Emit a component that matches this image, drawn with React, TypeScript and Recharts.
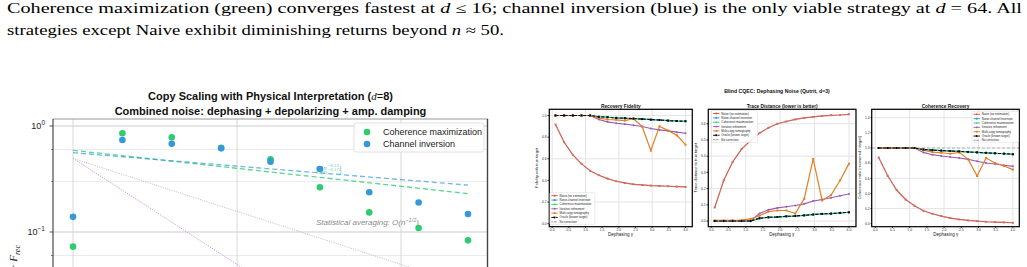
import React from "react";
import {
  ComposedChart,
  LineChart,
  Line,
  Scatter,
  XAxis,
  YAxis,
  CartesianGrid,
  ReferenceLine,
  ReferenceDot,
} from "recharts";

const SANS = '"Liberation Sans", Arial, sans-serif';
const SERIF = '"Liberation Serif", "Times New Roman", serif';

const GREEN = "#2ecc71";
const BLUE = "#3498db";
const RED = "#e74c3c";
const PURPLE = "#9b59b6";
const ORANGE = "#e67e22";

// ---------------- Left chart data (1 - F_rec vs copies, d = 8) ----------------
const copies = [1, 2, 4, 8, 16, 32, 64, 128, 256];
const coherenceMaxErr = [0.0727, 0.853, 0.782, 0.624, 0.485, 0.264, 0.153, 0.109, 0.0834];
const channelInvErr = [0.139, 0.738, 0.681, 0.615, 0.461, 0.393, 0.237, 0.19, 0.148];
const fitCopies = [1, 256];
const coherenceFit = [0.59, 0.23];
const inversionFit = [0.56, 0.277];
const statAvgGuide = [0.495, 0.0309];
const inverseGuide = [0.495, 0.00193];
const leftXTicks = [0.8, 0.9, 1, 2, 3, 4, 5, 6, 7, 8, 9, 10, 20, 30, 40, 50, 60, 70, 80, 90, 100, 200, 300];
const leftYTicks = [
  0.002, 0.003, 0.004, 0.005, 0.006, 0.007, 0.008, 0.009, 0.01, 0.02, 0.03, 0.04, 0.05, 0.06, 0.07, 0.08, 0.09,
  0.1, 0.2, 0.3, 0.4, 0.5, 0.6, 0.7, 0.8, 0.9, 1,
];
const leftMajorY = [1, 0.1, 0.01];
const leftMajorX = [1, 10, 100];

// ---------------- Right figure data (Blind CQEC, dephasing, qutrit) ----------------
const gamma = [0.1, 0.36, 0.62, 0.88, 1.14, 1.4, 1.66, 1.92, 2.18, 2.44, 2.7, 2.96, 3.22, 3.48, 3.74, 4.0];

const fidNaive = [0.917, 0.753, 0.636, 0.553, 0.49, 0.448, 0.417, 0.392, 0.377, 0.364, 0.358, 0.352, 0.349, 0.346, 0.343, 0.34];
const fidInversion = [1, 1, 1, 1, 1, 0.988, 0.984, 0.978, 0.975, 0.971, 0.967, 0.962, 0.958, 0.953, 0.949, 0.947];
const fidCoherence = [1, 1, 1, 1, 1, 0.988, 0.984, 0.978, 0.975, 0.971, 0.967, 0.962, 0.958, 0.953, 0.949, 0.947];
const fidIterative = [1, 1, 1, 1, 1, 0.963, 0.941, 0.929, 0.92, 0.91, 0.898, 0.88, 0.867, 0.858, 0.846, 0.836];
const fidMulticopy = [1, 1, 1, 1, 0.998, 0.975, 0.963, 0.96, 0.953, 0.97, 0.898, 0.676, 0.9, 0.86, 0.817, 0.73];
const fidOracle = [1, 1, 1, 1, 1, 0.988, 0.984, 0.978, 0.975, 0.971, 0.967, 0.962, 0.958, 0.953, 0.949, 0.947];
const fidNoCorrection = [0.917, 0.753, 0.636, 0.553, 0.49, 0.448, 0.417, 0.392, 0.377, 0.364, 0.358, 0.352, 0.349, 0.346, 0.343, 0.34];

const trNaive = [0.083, 0.25, 0.364, 0.444, 0.496, 0.542, 0.575, 0.6, 0.614, 0.627, 0.636, 0.642, 0.648, 0.652, 0.654, 0.658];
const trInversion = [0, 0, 0, 0, 0, 0.017, 0.023, 0.025, 0.029, 0.031, 0.035, 0.04, 0.044, 0.046, 0.05, 0.054];
const trCoherence = [0, 0, 0, 0, 0, 0.017, 0.023, 0.025, 0.029, 0.031, 0.035, 0.04, 0.044, 0.046, 0.05, 0.054];
const trIterative = [0, 0, 0, 0, 0, 0.046, 0.069, 0.081, 0.088, 0.096, 0.106, 0.123, 0.133, 0.144, 0.156, 0.167];
const trMulticopy = [0.004, 0.004, 0.005, 0.006, 0.013, 0.033, 0.058, 0.065, 0.065, 0.046, 0.138, 0.383, 0.127, 0.16, 0.25, 0.354];
const trOracle = [0, 0, 0, 0, 0, 0.017, 0.023, 0.025, 0.029, 0.031, 0.035, 0.04, 0.044, 0.046, 0.05, 0.054];
const trNoCorrection = [0.083, 0.25, 0.364, 0.444, 0.496, 0.542, 0.575, 0.6, 0.614, 0.627, 0.636, 0.642, 0.648, 0.652, 0.654, 0.658];

const cohNaive = [0.876, 0.634, 0.445, 0.321, 0.238, 0.172, 0.132, 0.101, 0.075, 0.057, 0.044, 0.035, 0.026, 0.022, 0.018, 0.013];
const cohInversion = [1, 1, 1, 1, 1, 0.98, 0.972, 0.966, 0.96, 0.955, 0.948, 0.942, 0.936, 0.93, 0.925, 0.918];
const cohCoherence = [1, 1, 1, 1, 1, 0.98, 0.972, 0.966, 0.96, 0.955, 0.948, 0.942, 0.936, 0.93, 0.925, 0.918];
const cohIterative = [1, 1, 1, 1, 1, 0.942, 0.912, 0.894, 0.881, 0.868, 0.85, 0.824, 0.802, 0.789, 0.772, 0.758];
const cohMulticopy = [1, 1, 1, 1, 1, 0.97, 0.946, 0.937, 0.924, 0.942, 0.85, 0.63, 0.868, 0.802, 0.763, 0.715];
const cohOracle = [1, 1, 1, 1, 1, 0.98, 0.972, 0.966, 0.96, 0.955, 0.948, 0.942, 0.936, 0.93, 0.925, 0.918];
const cohNoCorrection = [0.876, 0.634, 0.445, 0.321, 0.238, 0.172, 0.132, 0.101, 0.075, 0.057, 0.044, 0.035, 0.026, 0.022, 0.018, 0.013];

const seriesNames = [
  "Naive (no estimation)",
  "Noise-channel inversion",
  "Coherence maximization",
  "Iterative refinement",
  "Multi-copy tomography",
  "Oracle (known target)",
  "No correction",
];
const rightXTicks = [0, 0.5, 1, 1.5, 2, 2.5, 3, 3.5, 4];
const fidTicks = [0, 0.2, 0.4, 0.6, 0.8, 1.0];
const traceTicks = [0, 0.1, 0.2, 0.3, 0.4, 0.5, 0.6];
const cohTicks = [0, 0.2, 0.4, 0.6, 0.8, 1.0, 1.2, 1.4];

type SeriesStyle = { color: string; dash?: string; marker: string; width: number; opacity: number };
const SERIES: SeriesStyle[] = [
  { color: RED, marker: "o", width: 1.2, opacity: 1 },
  { color: BLUE, marker: "s", width: 1.1, opacity: 1 },
  { color: GREEN, marker: "^", width: 1.1, opacity: 1 },
  { color: PURPLE, marker: "o", width: 1.1, opacity: 1 },
  { color: ORANGE, marker: "s", width: 1.2, opacity: 1 },
  { color: "#000", dash: "3 1.6", marker: "s", width: 1.1, opacity: 1 },
  { color: "#999", dash: "2 1.5", marker: "x", width: 0.8, opacity: 0.85 },
];

// ---------------- Layout constants ----------------
const LP = { left: 53, top: 119, right: 488, bottom: 444 };
const PANEL_TOP = 109.3;
const PANEL_H = 117.4;

type PanelSpec = {
  title: string;
  yLabel: string;
  plotLeft: number;
  plotRight: number;
  yDomain: [number, number];
  yTicks: number[];
  series: number[][];
  refOne?: boolean;
  legend: { x: number; y: number; w: number; h: number };
};

const PANELS: PanelSpec[] = [
  {
    title: "Recovery Fidelity",
    yLabel: "Fidelity with true target",
    plotLeft: 549.3,
    plotRight: 692.3,
    yDomain: [-0.025, 1.06],
    yTicks: fidTicks,
    series: [fidNaive, fidInversion, fidCoherence, fidIterative, fidMulticopy, fidOracle, fidNoCorrection],
    legend: { x: 549.8, y: 192.7, w: 45, h: 31.6 },
  },
  {
    title: "Trace Distance (lower is better)",
    yLabel: "Trace distance to true target",
    plotLeft: 708.3,
    plotRight: 856,
    yDomain: [-0.033, 0.691],
    yTicks: traceTicks,
    series: [trNaive, trInversion, trCoherence, trIterative, trMulticopy, trOracle, trNoCorrection],
    legend: { x: 711.5, y: 110.5, w: 46, h: 32 },
  },
  {
    title: "Coherence Recovery",
    yLabel: "Coherence ratio (recovered / target)",
    plotLeft: 871.7,
    plotRight: 1019.3,
    yDomain: [-0.035, 1.515],
    yTicks: cohTicks,
    series: [cohNaive, cohInversion, cohCoherence, cohIterative, cohMulticopy, cohOracle, cohNoCorrection],
    refOne: true,
    legend: { x: 972, y: 111.3, w: 46.5, h: 31 },
  },
];

// ---------------- Helpers ----------------
const LogTick = (props: any) => {
  const { x, y, payload } = props;
  const v = payload.value as number;
  const e = Math.round(Math.log10(v));
  const major = Math.abs(v / Math.pow(10, e) - 1) < 1e-6;
  return (
    <g>
      <line x1={x - (major ? 3.5 : 2)} x2={x} y1={y} y2={y} stroke="#333" strokeWidth={major ? 0.8 : 0.6} />
      {major && (
        <text x={x - 8} y={y} dy="0.35em" textAnchor="end" fontSize={9} fill="#222" fontFamily={SANS}>
          10
          <tspan dy={-4} fontSize={6.5}>
            {e === 0 ? "0" : `\u2212${-e}`}
          </tspan>
        </text>
      )}
    </g>
  );
};

const leftYLabel = () => (
  <text transform="translate(17,262) rotate(-90)" textAnchor="middle" fontSize={11} fill="#222" fontFamily={SERIF}>
    1 − <tspan fontStyle="italic">F</tspan>
    <tspan fontSize={8} dy={3} fontStyle="italic">
      rec
    </tspan>
  </text>
);

const fitLabel = (exp: string, color: string) => (p: any) => {
  const vb = p.viewBox || {};
  return (
    <text x={vb.x} y={vb.y} dy="0.35em" fontSize={7} fill={color} fillOpacity={0.8} fontFamily={SERIF} fontStyle="italic">
      O(n
      <tspan dy={-3} fontSize={5}>
        {exp}
      </tspan>
      <tspan dy={3}>)</tspan>
    </text>
  );
};

const statLabel = (p: any) => {
  const vb = p.viewBox || {};
  return (
    <text x={vb.x} y={vb.y} dy="0.35em" fontSize={8} fill="#8a8a8a" fontFamily={SANS} fontStyle="italic">
      Statistical averaging: O(n
      <tspan dy={-3} fontSize={5.5}>
        −1/2
      </tspan>
      <tspan dy={3}>)</tspan>
    </text>
  );
};

const dotFor = (s: SeriesStyle) => (p: any) => {
  const { cx, cy, index } = p;
  const k = `d${index}`;
  if (cx == null || cy == null || isNaN(cx) || isNaN(cy)) return <g key={k} />;
  if (s.marker === "s")
    return <rect key={k} x={cx - 1} y={cy - 1} width={2} height={2} fill={s.color} />;
  if (s.marker === "x")
    return (
      <path
        key={k}
        d={`M${cx - 1},${cy - 1}L${cx + 1},${cy + 1}M${cx - 1},${cy + 1}L${cx + 1},${cy - 1}`}
        stroke={s.color}
        strokeWidth={0.5}
      />
    );
  if (s.marker === "^")
    return <path key={k} d={`M${cx},${cy - 1.2}L${cx + 1.1},${cy + 0.8}L${cx - 1.1},${cy + 0.8}Z`} fill={s.color} />;
  return <circle key={k} cx={cx} cy={cy} r={1} fill={s.color} />;
};

const LegendMarker = ({ s, cx, cy }: { s: SeriesStyle; cx: number; cy: number }) => {
  if (s.marker === "s") return <rect x={cx - 0.9} y={cy - 0.9} width={1.8} height={1.8} fill={s.color} />;
  if (s.marker === "x")
    return (
      <path d={`M${cx - 0.9},${cy - 0.9}L${cx + 0.9},${cy + 0.9}M${cx - 0.9},${cy + 0.9}L${cx + 0.9},${cy - 0.9}`} stroke={s.color} strokeWidth={0.5} />
    );
  if (s.marker === "^") return <path d={`M${cx},${cy - 1.1}L${cx + 1},${cy + 0.7}L${cx - 1},${cy + 0.7}Z`} fill={s.color} />;
  return <circle cx={cx} cy={cy} r={0.9} fill={s.color} />;
};

const PanelLegend = ({ x, y, w, h }: { x: number; y: number; w: number; h: number }) => (
  <g>
    <rect x={x} y={y} width={w} height={h} rx={0.8} fill="#fff" fillOpacity={0.85} stroke="#cfcfcf" strokeWidth={0.4} />
    {SERIES.map((s, i) => {
      const cy = y + 3 + i * 4.35;
      return (
        <g key={i}>
          <line x1={x + 1.5} x2={x + 8} y1={cy} y2={cy} stroke={s.color} strokeWidth={0.9} strokeDasharray={s.dash} />
          <LegendMarker s={s} cx={x + 4.75} cy={cy} />
          <text x={x + 9.8} y={cy} dy="0.35em" fontSize={2.9} fill="#222" fontFamily={SANS}>
            {seriesNames[i]}
          </text>
        </g>
      );
    })}
  </g>
);

// ---------------- Left chart ----------------
function LeftChart() {
  const cohPts = copies.map((n, i) => ({ x: n, y: coherenceMaxErr[i] }));
  const invPts = copies.map((n, i) => ({ x: n, y: channelInvErr[i] }));
  const cohFitPts = fitCopies.map((n, i) => ({ x: n, y: coherenceFit[i] }));
  const invFitPts = fitCopies.map((n, i) => ({ x: n, y: inversionFit[i] }));
  const statPts = fitCopies.map((n, i) => ({ x: n, y: statAvgGuide[i] }));
  const invGuidePts = fitCopies.map((n, i) => ({ x: n, y: inverseGuide[i] }));
  return (
    <div style={{ position: "absolute", left: 0, top: 0 }}>
      <ComposedChart
        width={LP.right}
        height={LP.bottom + 20}
        margin={{ top: LP.top, right: 0, bottom: 0, left: 0 }}
      >
        <CartesianGrid stroke="#e6e6e6" strokeWidth={0.8} />
        <XAxis
          type="number"
          dataKey="x"
          scale="log"
          domain={[0.755, 339]}
          allowDataOverflow
          ticks={leftXTicks}
          height={20}
          axisLine={false}
          tickLine={false}
          tick={false}
        />
        <YAxis
          type="number"
          dataKey="y"
          scale="log"
          domain={[0.001, 1.164]}
          allowDataOverflow
          ticks={leftYTicks}
          width={LP.left}
          axisLine={false}
          tickLine={false}
          tickSize={0}
          tickMargin={0}
          tick={<LogTick />}
          label={{ content: leftYLabel }}
        />
        {leftMajorY.map((v) => (
          <ReferenceLine key={`my${v}`} y={v} stroke="#d2d2d2" strokeWidth={0.9} />
        ))}
        {leftMajorX.map((v) => (
          <ReferenceLine key={`mx${v}`} x={v} stroke="#d2d2d2" strokeWidth={0.9} />
        ))}
        <Line data={invGuidePts} dataKey="y" stroke="#c27ad3" strokeWidth={0.9} strokeDasharray="1 1.3" dot={false} isAnimationActive={false} />
        <Line data={statPts} dataKey="y" stroke="#b5b5b5" strokeWidth={0.9} strokeDasharray="1 1.3" dot={false} isAnimationActive={false} />
        <Line data={cohFitPts} dataKey="y" stroke={GREEN} strokeWidth={1.3} strokeOpacity={0.8} strokeDasharray="5 3" dot={false} isAnimationActive={false} />
        <Line data={invFitPts} dataKey="y" stroke={BLUE} strokeWidth={1.3} strokeOpacity={0.7} strokeDasharray="5 3" dot={false} isAnimationActive={false} />
        <Scatter
          data={cohPts}
          dataKey="y"
          fill={GREEN}
          isAnimationActive={false}
          shape={(p: any) => <circle cx={p.cx} cy={p.cy} r={3.3} fill={GREEN} />}
        />
        <Scatter
          data={invPts}
          dataKey="y"
          fill={BLUE}
          isAnimationActive={false}
          shape={(p: any) => <circle cx={p.cx} cy={p.cy} r={3.3} fill={BLUE} />}
        />
        <ReferenceDot x={30.3} y={0.404} r={0} fill="none" stroke="none" label={{ content: fitLabel("−0.13", BLUE) }} />
        <ReferenceDot x={30.3} y={0.371} r={0} fill="none" stroke="none" label={{ content: fitLabel("−0.17", GREEN) }} />
        <ReferenceDot x={30.3} y={0.124} r={0} fill="none" stroke="none" label={{ content: statLabel }} />
      </ComposedChart>
    </div>
  );
}

// ---------------- Right panels ----------------
function Panel({ spec }: { spec: PanelSpec }) {
  const YW = 22;
  const MT = 12;
  const XH = 24;
  const MR = 1;
  const plotW = spec.plotRight - spec.plotLeft;
  const rows = gamma.map((g, i) => {
    const r: any = { g };
    spec.series.forEach((arr, k) => {
      r[`s${k}`] = arr[i];
    });
    return r;
  });
  const yLabel = (p: any) => {
    const vb = p.viewBox || { x: 0, y: MT, width: YW, height: PANEL_H };
    return (
      <text
        transform={`translate(${vb.x + 11},${vb.y + vb.height / 2}) rotate(-90)`}
        textAnchor="middle"
        fontSize={4}
        fill="#222"
        fontFamily={SANS}
      >
        {spec.yLabel}
      </text>
    );
  };
  return (
    <div style={{ position: "absolute", left: spec.plotLeft - YW, top: PANEL_TOP - MT }}>
      <LineChart
        width={YW + plotW + MR}
        height={MT + PANEL_H + XH}
        data={rows}
        margin={{ top: MT, right: MR, bottom: 0, left: 0 }}
      >
        <CartesianGrid stroke="#e4e4e4" strokeWidth={1} />
        <XAxis
          type="number"
          dataKey="g"
          domain={[-0.095, 4.195]}
          allowDataOverflow
          ticks={rightXTicks}
          height={XH}
          axisLine={false}
          tickSize={1.5}
          tickMargin={0.3}
          stroke="#333"
          tick={{ fontSize: 3.4, fill: "#333", fontFamily: SANS }}
          tickFormatter={(v: number) => v.toFixed(1)}
          label={{ value: "Dephasing γ", position: "insideTop", offset: 6, fontSize: 4.5, fill: "#222", fontFamily: SANS }}
        />
        <YAxis
          type="number"
          domain={spec.yDomain}
          allowDataOverflow
          ticks={spec.yTicks}
          width={YW}
          axisLine={false}
          tickSize={1.5}
          tickMargin={0.8}
          stroke="#333"
          tick={{ fontSize: 3.4, fill: "#333", fontFamily: SANS }}
          tickFormatter={(v: number) => v.toFixed(1)}
          label={{ content: yLabel }}
        />
        {spec.refOne && <ReferenceLine y={1} stroke="#9a9a9a" strokeWidth={0.7} strokeDasharray="3 2" />}
        {SERIES.map((s, k) => (
          <Line
            key={k}
            dataKey={`s${k}`}
            stroke={s.color}
            strokeWidth={s.width}
            strokeOpacity={s.opacity}
            strokeDasharray={s.dash}
            dot={dotFor(s)}
            activeDot={false}
            isAnimationActive={false}
          />
        ))}
      </LineChart>
    </div>
  );
}

// ---------------- Overlay (header, titles, frames, legends) ----------------
function Overlay() {
  return (
    <svg width={1027} height={267} style={{ position: "absolute", left: 0, top: 0, pointerEvents: "none" }}>
      {/* page text */}
      <text x={7} y={12.5} textLength={1015} lengthAdjust="spacingAndGlyphs" fontSize={14} fill="#000" fontFamily={SERIF}>
        {"Coherence maximization (green) converges fastest at "}
        <tspan fontStyle="italic">d</tspan>
        {" ≤ 16; channel inversion (blue) is the only viable strategy at "}
        <tspan fontStyle="italic">d</tspan>
        {" = 64. All"}
      </text>
      <text x={7} y={34.5} textLength={497} lengthAdjust="spacingAndGlyphs" fontSize={14} fill="#000" fontFamily={SERIF}>
        {"strategies except Naive exhibit diminishing returns beyond "}
        <tspan fontStyle="italic">n</tspan>
        {" ≈ 50."}
      </text>

      {/* left chart title */}
      <text x={270.5} y={96} dy="0.35em" textAnchor="middle" fontSize={11} fontWeight="bold" fill="#111" fontFamily={SANS}>
        Copy Scaling with Physical Interpretation (
        <tspan fontFamily={SERIF} fontStyle="italic" fontWeight="normal">
          d
        </tspan>
        <tspan fontWeight="normal">=</tspan>8)
      </text>
      <text x={270.5} y={110.7} dy="0.35em" textAnchor="middle" fontSize={11} fontWeight="bold" fill="#111" fontFamily={SANS}>
        Combined noise: dephasing + depolarizing + amp. damping
      </text>
      {/* left frame */}
      <line x1={LP.left} x2={LP.right} y1={LP.top} y2={LP.top} stroke="#9a9a9a" strokeWidth={0.9} />
      <line x1={LP.left} x2={LP.left} y1={LP.top} y2={LP.bottom} stroke="#333" strokeWidth={1} />
      <line x1={LP.right - 0.5} x2={LP.right - 0.5} y1={LP.top} y2={LP.bottom} stroke="#444" strokeWidth={1.4} />
      {/* left legend */}
      <rect x={354} y={123} width={130} height={29} rx={2.5} fill="#fff" fillOpacity={0.85} stroke="#d8d8d8" strokeWidth={0.8} />
      <circle cx={367} cy={132} r={3.3} fill={GREEN} />
      <circle cx={367} cy={144} r={3.3} fill={BLUE} />
      <text x={383} y={132} dy="0.35em" fontSize={9} fill="#222" fontFamily={SANS}>
        Coherence maximization
      </text>
      <text x={383} y={144} dy="0.35em" fontSize={9} fill="#222" fontFamily={SANS}>
        Channel inversion
      </text>

      {/* right figure */}
      <text x={777} y={91} dy="0.35em" textAnchor="middle" fontSize={5.2} fontWeight="bold" fill="#111" fontFamily={SANS}>
        Blind CQEC: Dephasing Noise (Qutrit, d=3)
      </text>
      {PANELS.map((p, i) => (
        <g key={i}>
          <text
            x={(p.plotLeft + p.plotRight) / 2}
            y={106.6}
            dy="0.35em"
            textAnchor="middle"
            fontSize={4.8}
            fontWeight="bold"
            fill="#111"
            fontFamily={SANS}
          >
            {p.title}
          </text>
          <rect
            x={p.plotLeft}
            y={PANEL_TOP}
            width={p.plotRight - p.plotLeft}
            height={PANEL_H}
            fill="none"
            stroke="#000"
            strokeWidth={1.2}
          />
          <PanelLegend {...p.legend} />
        </g>
      ))}
    </svg>
  );
}

export default function App() {
  return (
    <div
      style={{
        position: "absolute",
        left: 0,
        top: 0,
        width: 1027,
        height: 267,
        overflow: "hidden",
        background: "#fff",
      }}
    >
      <LeftChart />
      {PANELS.map((p, i) => (
        <Panel key={i} spec={p} />
      ))}
      <Overlay />
    </div>
  );
}
